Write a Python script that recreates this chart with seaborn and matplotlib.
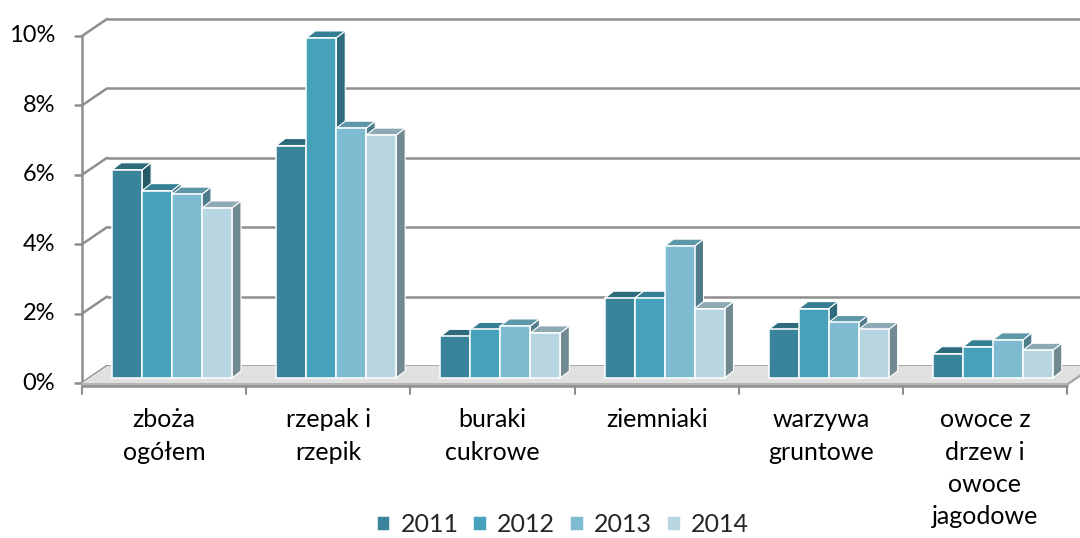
import numpy as np
import pandas as pd
import matplotlib
matplotlib.use("Agg")
import matplotlib.pyplot as plt
from matplotlib.patches import Polygon
import seaborn as sns

# Share of each crop group (percent) by year
categories = ["zboża\nogółem", "rzepak i\nrzepik", "buraki\ncukrowe", "ziemniaki",
              "warzywa\ngruntowe", "owoce z\ndrzew i\nowoce\njagodowe"]
years = ["2011", "2012", "2013", "2014"]
v2011 = [6.0, 6.7, 1.2, 2.3, 1.4, 0.7]
v2012 = [5.4, 9.8, 1.4, 2.3, 2.0, 0.9]
v2013 = [5.3, 7.2, 1.5, 3.8, 1.6, 1.1]
v2014 = [4.9, 7.0, 1.3, 2.0, 1.4, 0.8]
y_ticks = [0, 2, 4, 6, 8, 10]
y_tick_labels = ["0%", "2%", "4%", "6%", "8%", "10%"]

front_colors = ["#3A849B", "#46A1BA", "#7EBBD0", "#B7D6E1"]
top_colors = ["#2D6A7C", "#357F94", "#5E97A8", "#8DA9B3"]
side_colors = ["#275A69", "#2F6B7D", "#4E7C8A", "#718A92"]
grid_color = "#8E8E8E"
text_color = "#000000"

df = pd.DataFrame({
    "category": np.repeat(categories, len(years)),
    "year": years * len(categories),
    "value": np.column_stack([v2011, v2012, v2013, v2014]).ravel(),
})

sns.set_theme(style="white")
plt.rcParams["font.family"] = ["Lato", "DejaVu Sans"]

W, H = 1080, 538
fig = plt.figure(figsize=(W / 100, H / 100), dpi=100)
ax = fig.add_axes([90 / W, 160 / H, 985 / W, 347 / H])

sns.barplot(data=df, x="category", y="value", hue="year", hue_order=years,
            palette=front_colors, saturation=1, width=0.73, errorbar=None,
            edgecolor="white", linewidth=1.1, ax=ax)

ax.set_xlim(-0.5, len(categories) - 0.5)
ax.set_ylim(0, 10)
ax.set_axis_off()

# pixel scale of the data axes, used for the pseudo-3D depth offsets
p0 = ax.transData.transform((0, 0))
p1 = ax.transData.transform((1, 1))
sx, sy = p1 - p0


def off(x, y, dx, dy):
    return (x + dx / sx, y + dy / sy)


def seg(a, b, **kw):
    ax.plot([a[0], b[0]], [a[1], b[1]], clip_on=False, **kw)


BACK = (17, 12)
FRONT = (-8, -5)
BAR = (9, 7)
x_lo, x_hi = -0.5, len(categories) - 0.5

# back wall gridlines, left side wall diagonals and value ticks
for v, lab in zip(y_ticks, y_tick_labels):
    a, b = off(x_lo, v, *BACK), off(x_hi, v, *BACK)
    seg(a, b, color=grid_color, lw=1.8, zorder=1, solid_capstyle="butt")
    c = off(x_lo, v, *FRONT)
    seg(c, a, color=grid_color, lw=1.8, zorder=1)
    seg(off(x_lo, v, FRONT[0] - 7, FRONT[1]), c, color=grid_color, lw=1.8, zorder=1)
    ax.text(*off(x_lo, v, FRONT[0] - 27, FRONT[1]), lab,
            ha="right", va="center", fontsize=17, color=text_color)

# front value axis
seg(off(x_lo, 0, *FRONT), off(x_lo, 10, *FRONT), color=grid_color, lw=1.8, zorder=1)

# floor slab
floor = Polygon([off(x_lo, 0, *FRONT), off(x_hi, 0, *FRONT),
                 off(x_hi, 0, *BACK), off(x_lo, 0, *BACK)],
                closed=True, facecolor="#E0E0E0", edgecolor="none", zorder=2,
                clip_on=False)
ax.add_patch(floor)
slab = Polygon([off(x_lo, 0, *FRONT), off(x_hi, 0, *FRONT),
                off(x_hi, 0, FRONT[0], FRONT[1] - 3), off(x_lo, 0, FRONT[0], FRONT[1] - 3)],
               closed=True, facecolor="#B5B5B5", edgecolor="none", zorder=2,
               clip_on=False)
ax.add_patch(slab)
slab_side = Polygon([off(x_hi, 0, *FRONT), off(x_hi, 0, *BACK),
                     off(x_hi, 0, BACK[0], BACK[1] - 3), off(x_hi, 0, FRONT[0], FRONT[1] - 3)],
                    closed=True, facecolor="#A8A8A8", edgecolor="none", zorder=2,
                    clip_on=False)
ax.add_patch(slab_side)

# category axis with boundary ticks
seg(off(x_lo, 0, FRONT[0], FRONT[1] - 3), off(x_hi, 0, FRONT[0], FRONT[1] - 3),
    color=grid_color, lw=1.8, zorder=3)
for k in range(len(categories) + 1):
    xb = x_lo + k
    seg(off(xb, 0, FRONT[0], FRONT[1] - 3), off(xb, 0, FRONT[0], FRONT[1] - 11),
        color=grid_color, lw=1.5, zorder=3)

for i, lab in enumerate(categories):
    ax.text(*off(i, 0, FRONT[0], FRONT[1] - 25), lab, ha="center", va="top",
            fontsize=18, linespacing=1.5, color=text_color)

# pseudo-3D tops and sides for every bar, drawn left to right
bars = []
for hi, cont in enumerate(ax.containers):
    for p in cont.patches:
        bars.append((p.get_x(), hi, p))
bars.sort(key=lambda t: t[0])
for k, (x0, hi, p) in enumerate(bars):
    w, h = p.get_width(), p.get_height()
    z = 10 + 3 * k
    side = Polygon([(x0 + w, 0), (x0 + w, h), off(x0 + w, h, *BAR), off(x0 + w, 0, *BAR)],
                   closed=True, facecolor=side_colors[hi], edgecolor="white",
                   lw=0.8, zorder=z, clip_on=False)
    top = Polygon([(x0, h), (x0 + w, h), off(x0 + w, h, *BAR), off(x0, h, *BAR)],
                  closed=True, facecolor=top_colors[hi], edgecolor="white",
                  lw=0.8, zorder=z + 1, clip_on=False)
    ax.add_patch(side)
    ax.add_patch(top)
    p.set_zorder(z + 2)
    p.set_clip_on(False)

sns.move_legend(ax, "center", bbox_to_anchor=(0.521, 13 / H),
                bbox_transform=fig.transFigure, ncol=4, frameon=False, title=None,
                fontsize=18, handlelength=0.55, handleheight=0.55,
                handletextpad=0.4, columnspacing=0.6, borderpad=0.1)

fig.savefig("out.png", dpi=100)
